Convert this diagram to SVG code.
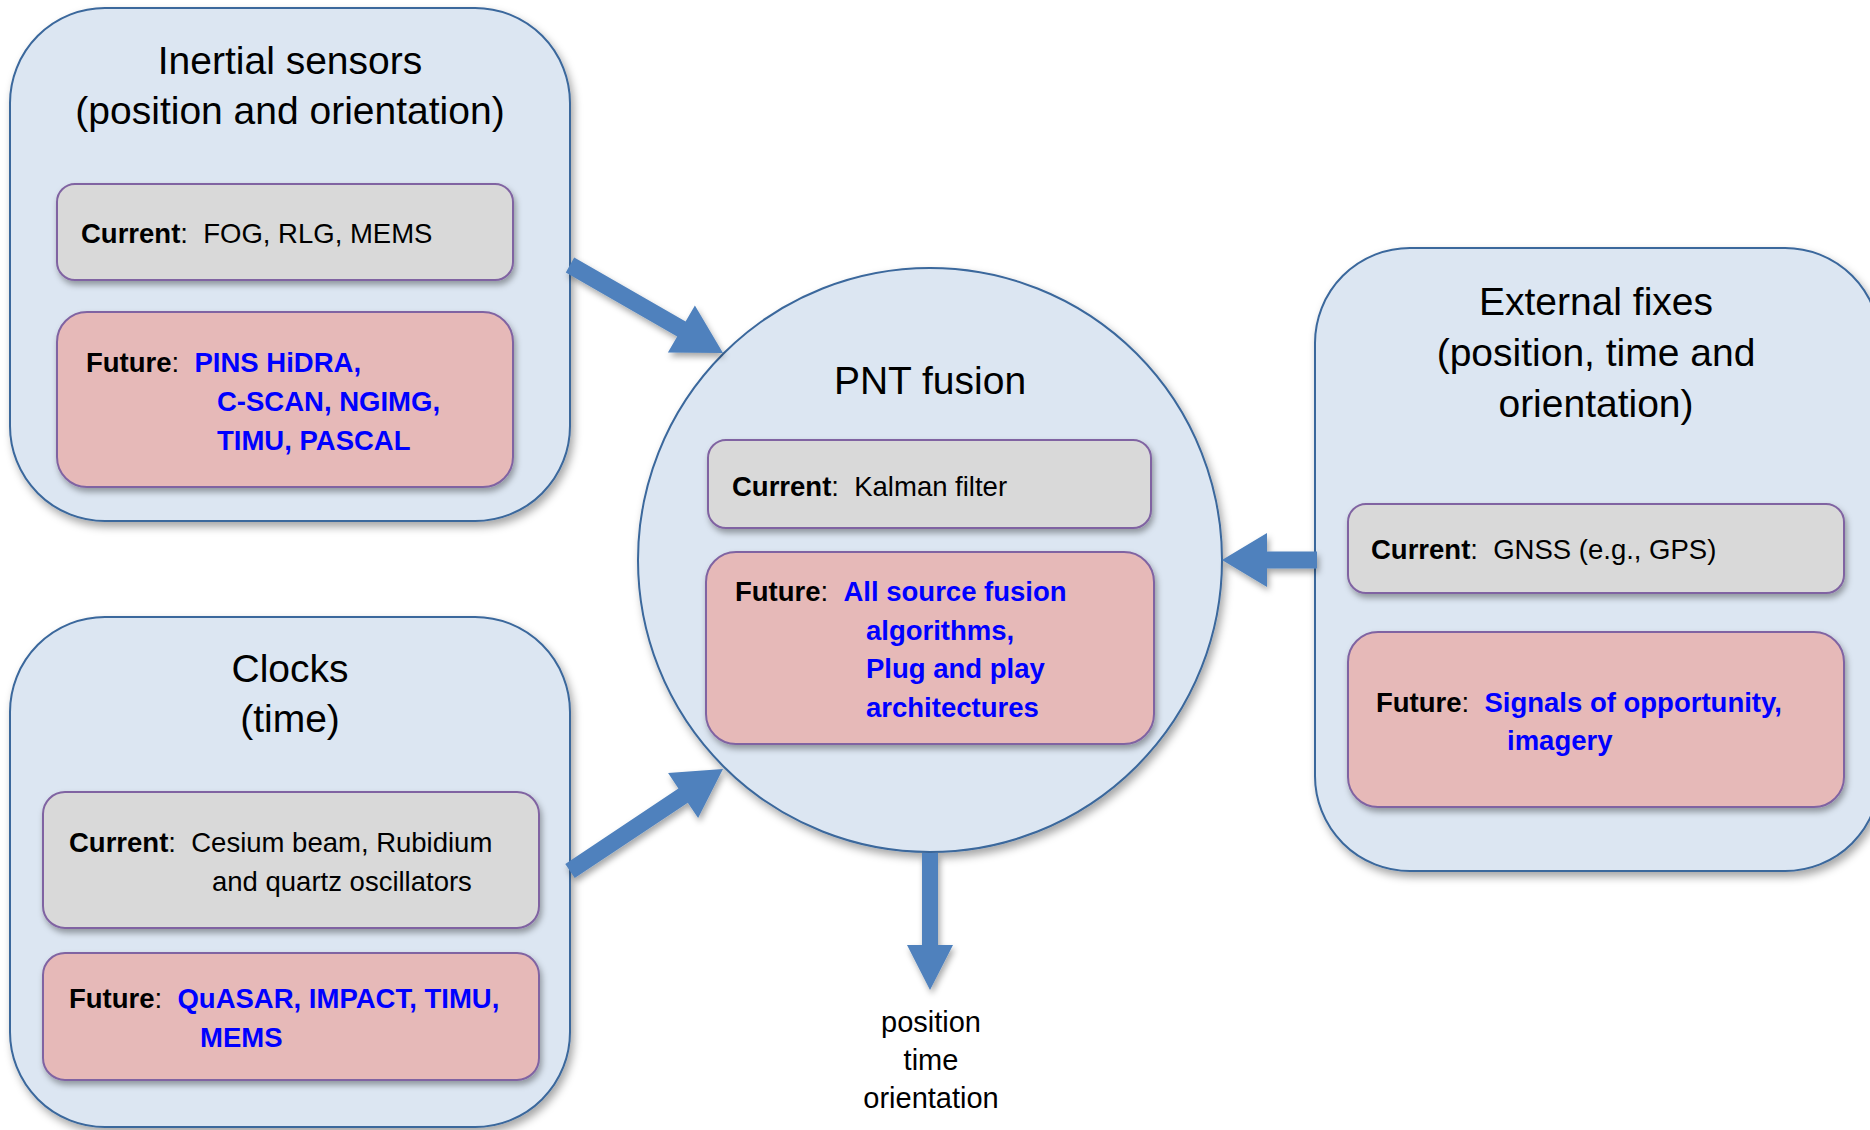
<svg xmlns="http://www.w3.org/2000/svg" width="1870" height="1130" viewBox="0 0 1870 1130">
<defs>
<filter id="sh" x="-10%" y="-10%" width="125%" height="125%">
<feDropShadow dx="3" dy="5" stdDeviation="4" flood-color="#000" flood-opacity="0.35"/>
</filter>
<filter id="sh2" x="-10%" y="-10%" width="125%" height="130%">
<feDropShadow dx="2" dy="4" stdDeviation="3" flood-color="#000" flood-opacity="0.35"/>
</filter>
<style>
.outer{fill:#DCE6F2;stroke:#3A679C;stroke-width:2;filter:url(#sh)}
.cur{fill:#D9D9D9;stroke:#8064A2;stroke-width:2;filter:url(#sh2)}
.fut{fill:#E6B9B8;stroke:#8064A2;stroke-width:2;filter:url(#sh2)}
.title{font-family:"Liberation Sans",Arial,sans-serif;font-size:39px;fill:#000;text-anchor:middle}
.t{font-family:"Liberation Sans",Arial,sans-serif;font-size:27.5px;fill:#000;white-space:pre}
.b{font-weight:bold}
.blue{font-weight:bold;fill:#0000FF}
.arrow{fill:#4F81BD;filter:url(#sh2)}
.out{font-family:"Liberation Sans",Arial,sans-serif;font-size:29px;fill:#000;text-anchor:middle}
</style>
</defs>
<rect width="1870" height="1130" fill="#fff"/>

<g id="inertial">
<rect class="outer" x="10" y="8" width="560" height="513" rx="95" ry="95"/>
<text class="title" x="290" y="74">Inertial sensors</text>
<text class="title" x="290" y="124">(position and orientation)</text>
<rect class="cur" x="57" y="184" width="456" height="96" rx="18" ry="18"/>
<text class="t" x="81" y="243" xml:space="preserve"><tspan class="b">Current</tspan>:  FOG, RLG, MEMS</text>
<rect class="fut" x="57" y="312" width="456" height="175" rx="30" ry="30"/>
<text class="t" x="86" y="372" xml:space="preserve"><tspan class="b">Future</tspan>:  <tspan class="blue">PINS HiDRA,</tspan></text>
<text class="t blue" x="217" y="411">C-SCAN, NGIMG,</text>
<text class="t blue" x="217" y="450">TIMU, PASCAL</text>
</g>

<g id="clocks">
<rect class="outer" x="10" y="617" width="560" height="510" rx="95" ry="95"/>
<text class="title" x="290" y="682">Clocks</text>
<text class="title" x="290" y="732">(time)</text>
<rect class="cur" x="43" y="792" width="496" height="136" rx="22" ry="22"/>
<text class="t" x="69" y="852" xml:space="preserve"><tspan class="b">Current</tspan>:  Cesium beam, Rubidium</text>
<text class="t" x="212" y="891">and quartz oscillators</text>
<rect class="fut" x="43" y="953" width="496" height="127" rx="22" ry="22"/>
<text class="t" x="69" y="1008" xml:space="preserve"><tspan class="b">Future</tspan>:  <tspan class="blue">QuASAR, IMPACT, TIMU,</tspan></text>
<text class="t blue" x="200" y="1047">MEMS</text>
</g>

<g id="external">
<rect class="outer" x="1315" y="248" width="565" height="623" rx="95" ry="95"/>
<text class="title" x="1596" y="315">External fixes</text>
<text class="title" x="1596" y="366">(position, time and</text>
<text class="title" x="1596" y="417">orientation)</text>
<rect class="cur" x="1348" y="504" width="496" height="89" rx="18" ry="18"/>
<text class="t" x="1371" y="559" xml:space="preserve"><tspan class="b">Current</tspan>:  GNSS (e.g., GPS)</text>
<rect class="fut" x="1348" y="632" width="496" height="175" rx="30" ry="30"/>
<text class="t" x="1376" y="712" xml:space="preserve"><tspan class="b">Future</tspan>:  <tspan class="blue">Signals of opportunity,</tspan></text>
<text class="t blue" x="1507" y="750">imagery</text>
</g>

<g id="pnt">
<circle cx="930" cy="560" r="292" fill="#DCE6F2" stroke="#3A679C" stroke-width="2" filter="url(#sh)"/>
<text class="title" x="930" y="394">PNT fusion</text>
<rect class="cur" x="708" y="440" width="443" height="88" rx="18" ry="18"/>
<text class="t" x="732" y="496" xml:space="preserve"><tspan class="b">Current</tspan>:  Kalman filter</text>
<rect class="fut" x="706" y="552" width="448" height="192" rx="30" ry="30"/>
<text class="t" x="735" y="601" xml:space="preserve"><tspan class="b">Future</tspan>:  <tspan class="blue">All source fusion</tspan></text>
<text class="t blue" x="866" y="640">algorithms,</text>
<text class="t blue" x="866" y="678">Plug and play</text>
<text class="t blue" x="866" y="717">architectures</text>
</g>

<g id="output">
<text class="out" x="931" y="1032">position</text>
<text class="out" x="931" y="1070">time</text>
<text class="out" x="931" y="1108">orientation</text>
</g>

<g id="connectors">
<polygon class="arrow" points="565.8,272.4 574.2,257.6 685.6,321.6 694.9,305.6 723,353 667.9,352.4 677.2,336.4"/>
<polygon class="arrow" points="574.7,878.1 565.3,863.9 678.4,788.5 668.1,773.1 723,769 698.1,818.1 687.8,802.7"/>
<polygon class="arrow" points="1317,551.5 1267,551.5 1267,533 1222,560 1267,587 1267,568.5 1317,568.5"/>
<polygon class="arrow" points="922,853 922,945 907,945 930,990 953,945 938,945 938,853"/>
</g>
</svg>
